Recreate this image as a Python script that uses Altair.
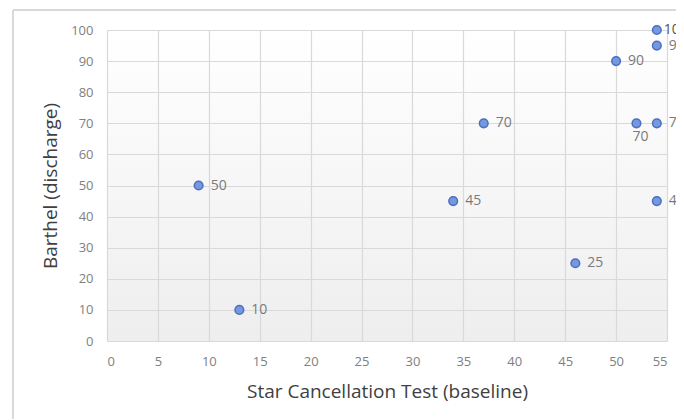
import altair as alt
import pandas as pd

star = [9, 13, 34, 37, 46, 50, 52, 54, 54, 54, 54]
barthel = [50, 10, 45, 70, 25, 90, 70, 100, 95, 70, 45]
labels = [str(v) for v in barthel]

df = pd.DataFrame({"star": star, "barthel": barthel, "label": labels})

W, H = 560, 311
FONT = "Open Sans"

x = alt.X("star:Q", scale=alt.Scale(domain=[0, 55], nice=False),
          axis=alt.Axis(values=list(range(0, 56, 5)), title="Star Cancellation Test (baseline)",
                        labelPadding=14, titleY=50, titleBaseline="middle", titleX=W / 2,
                        labelOverlap=False))
y = alt.Y("barthel:Q", scale=alt.Scale(domain=[0, 100], nice=False),
          axis=alt.Axis(values=list(range(0, 101, 10)), title="Barthel (discharge)",
                        labelPadding=14, titleX=-57, titleY=H / 2, titleBaseline="middle",
                        titleAlign="center", labelOverlap=False))

base = alt.Chart(df)

frame_v = base.mark_rule(color="#d9d9d9", strokeWidth=1.5).encode(
    x=alt.value(-94), y=alt.value(-20), y2=alt.value(H + 120))
frame_h = base.mark_rule(color="#d9d9d9", strokeWidth=1.5).encode(
    x=alt.value(-94), x2=alt.value(W + 100), y=alt.value(-20))

points = base.mark_point(filled=True, size=75, fill="#7698dc", stroke="#4a6fc4",
                         strokeWidth=1.5, opacity=1, fillOpacity=1).encode(x=x, y=y)

lab_normal = base.transform_filter("datum.barthel != 100 && datum.star != 52").mark_text(
    align="left", baseline="middle", dx=12, font=FONT, fontSize=14, color="#7a7a7a"
).encode(x=x, y=y, text="label:N")
lab_top = base.transform_filter("datum.barthel == 100").mark_text(
    align="left", baseline="middle", dx=7, font=FONT, fontSize=14, color="#555555"
).encode(x=x, y=y, text="label:N")
lab_below = base.transform_filter("datum.star == 52").mark_text(
    align="center", baseline="middle", dx=4, dy=14, font=FONT, fontSize=14, color="#7a7a7a"
).encode(x=x, y=y, text="label:N")

chart = alt.layer(frame_v, frame_h, points, lab_normal, lab_top, lab_below).properties(
    width=W, height=H,
    background="white",
    autosize=alt.AutoSizeParams(type="none"),
    padding={"left": 99, "top": 22, "right": 9, "bottom": 78},
).configure_view(
    stroke=None,
    fill=alt.ExprRef(expr="{gradient: 'linear', x1: 0, y1: 0, x2: 0, y2: 1, stops: [{offset: 0, color: '#ffffff'}, {offset: 1, color: '#eeeeee'}]}"),
).configure_axis(
    grid=True, gridColor="#d9d9d9", gridWidth=1.2, domain=False, ticks=False,
    labelFont=FONT, labelFontSize=13, labelColor="#808080",
    titleFont=FONT, titleFontSize=19, titleColor="#404040", titleFontWeight="normal",
)

chart.save("out.html", embed_options={"renderer": "svg", "actions": False})
